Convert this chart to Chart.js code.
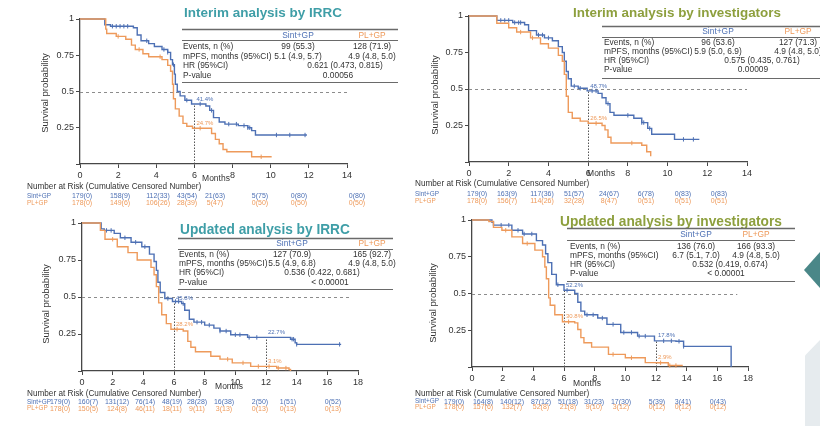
<!DOCTYPE html>
<html>
<head>
<meta charset="utf-8">
<script src="https://cdn.jsdelivr.net/npm/chart.js@4.4.1/dist/chart.umd.min.js"></script>
<style>
  html, body { margin: 0; padding: 0; background: #fff; }
  #page { position: relative; width: 820px; height: 426px; overflow: hidden; background: #fff; }
  canvas { position: absolute; }
  .arrow { position: absolute; left: 804px; top: 252px; width: 16px; height: 36px; background: #4a8788;
           clip-path: polygon(0 50%, 100% 0, 100% 100%); }
  .slab { position: absolute; left: 805px; top: 340px; width: 15px; height: 86px; background: #e6ebee;
          clip-path: polygon(0 18%, 100% 0, 100% 100%, 0 100%); }
</style>
</head>
<body>
<div id="page">
  <canvas id="c1" width="410" height="210" style="left:0;top:0"></canvas>
  <canvas id="c2" width="410" height="210" style="left:410px;top:0"></canvas>
  <canvas id="c3" width="410" height="216" style="left:0;top:210px"></canvas>
  <canvas id="c4" width="410" height="216" style="left:410px;top:210px"></canvas>
  <div class="arrow"></div>
  <div class="slab"></div>
</div>
<script>
// shared labels
const armNames = ['Sint+GP', 'PL+GP'];
const rowLabels = ['Events, n (%)', 'mPFS, months (95%CI)', 'HR (95%CI)', 'P-value'];
const riskTitle = 'Number at Risk (Cumulative Censored Number)';

// ---- Interim analysis by IRRC ----
const p1Title = 'Interim analysis by IRRC';
const p1SintT = [0, 1.3, 1.6, 2.8, 3.0, 3.2, 3.6, 3.9, 4.3, 4.6, 4.75, 4.85, 4.95, 5.0, 5.1, 5.25, 5.5, 5.85, 6.6, 6.8, 7.0, 7.3, 7.6, 8.3, 8.8, 9.0, 9.2, 11.9];
const p1SintS = [1, 0.96, 0.95, 0.94, 0.89, 0.85, 0.83, 0.81, 0.79, 0.77, 0.72, 0.685, 0.62, 0.55, 0.50, 0.47, 0.44, 0.414, 0.40, 0.37, 0.32, 0.29, 0.275, 0.265, 0.25, 0.23, 0.20, 0.20];
const p1PlT = [0, 1.35, 1.4, 1.9, 2.4, 2.7, 2.9, 3.3, 3.6, 4.3, 4.6, 4.75, 4.85, 4.9, 5.0, 5.2, 5.4, 5.6, 5.9, 6.9, 7.1, 7.3, 7.5, 7.7, 9.0, 10.05];
const p1PlS = [1, 0.93, 0.90, 0.88, 0.86, 0.82, 0.79, 0.76, 0.74, 0.72, 0.68, 0.64, 0.55, 0.45, 0.38, 0.33, 0.28, 0.26, 0.247, 0.21, 0.17, 0.14, 0.10, 0.085, 0.05, 0.05];
const p1SintCens = [1.7, 1.9, 2.1, 2.3, 2.5, 3.5, 4.4, 4.6, 4.9, 5.6, 6.3, 6.9, 7.8, 8.2, 8.6, 8.8, 8.9, 10.3, 11.0, 11.8];
const p1PlCens = [2.0, 3.1, 4.2, 6.3, 9.5];
const p1SintRisk = ['179(0)', '158(9)', '112(33)', '43(54)', '21(63)', '5(75)', '0(80)', '0(80)'];
const p1PlRisk = ['178(0)', '149(6)', '106(26)', '28(39)', '5(47)', '0(50)', '0(50)', '0(50)'];
const p1Events = ['99 (55.3)', '128 (71.9)'];
const p1Mpfs = ['5.1 (4.9, 5.7)', '4.9 (4.8, 5.0)'];
const p1Hr = '0.621 (0.473, 0.815)';
const p1P = '0.00056';
const p1MarkT = [6];
const p1MarkSint = [0.414];
const p1MarkPl = [0.247];

// ---- Interim analysis by investigators ----
const p2Title = 'Interim analysis by investigators';
const p2SintT = [0, 1.4, 2.2, 2.8, 3.0, 3.4, 3.8, 4.2, 4.5, 4.7, 4.8, 4.9, 5.0, 5.15, 5.5, 5.95, 6.5, 6.7, 6.9, 7.1, 7.3, 8.3, 8.7, 9.0, 9.2, 10.35, 11.6];
const p2SintS = [1, 0.97, 0.955, 0.94, 0.90, 0.87, 0.85, 0.83, 0.79, 0.75, 0.69, 0.62, 0.57, 0.52, 0.505, 0.487, 0.47, 0.44, 0.40, 0.34, 0.32, 0.30, 0.27, 0.23, 0.19, 0.155, 0.155];
const p2PlT = [0, 1.4, 2.0, 2.4, 3.1, 3.6, 4.0, 4.5, 4.7, 4.8, 4.9, 5.0, 5.2, 5.6, 6.0, 6.7, 6.85, 7.0, 7.15, 8.7, 8.95, 9.15];
const p2PlS = [1, 0.95, 0.92, 0.89, 0.85, 0.81, 0.78, 0.73, 0.69, 0.60, 0.45, 0.34, 0.30, 0.28, 0.265, 0.25, 0.22, 0.17, 0.13, 0.115, 0.07, 0.04];
const p2SintCens = [1.6, 1.8, 2.0, 2.3, 2.5, 2.6, 3.5, 3.7, 4.0, 5.3, 5.6, 6.2, 6.4, 7.0, 8.0, 8.7, 8.8, 9.1, 10.8, 11.3];
const p2PlCens = [2.6, 3.2, 6.4, 8.2];
const p2SintRisk = ['179(0)', '163(9)', '117(36)', '51(57)', '24(67)', '6(78)', '0(83)', '0(83)'];
const p2PlRisk = ['178(0)', '156(7)', '114(26)', '32(28)', '8(47)', '0(51)', '0(51)', '0(51)'];
const p2Events = ['96 (53.6)', '127 (71.3)'];
const p2Mpfs = ['5.9 (5.0, 6.9)', '4.9 (4.8, 5.0)'];
const p2Hr = '0.575 (0.435, 0.761)';
const p2P = '0.00009';
const p2MarkT = [6];
const p2MarkSint = [0.487];
const p2MarkPl = [0.265];

// ---- Updated analysis by IRRC ----
const p3Title = 'Updated analysis by IRRC';
const p3SintT = [0, 1.25, 1.45, 2.1, 2.5, 3.2, 3.9, 4.4, 4.7, 4.85, 4.95, 5.1, 5.4, 5.9, 6.5, 6.7, 7.0, 7.3, 8.0, 8.6, 9.0, 9.7, 10.8, 13.6, 13.9, 14.0, 16.9];
const p3SintS = [1, 0.96, 0.95, 0.93, 0.90, 0.87, 0.84, 0.79, 0.74, 0.68, 0.60, 0.53, 0.49, 0.47, 0.455, 0.41, 0.35, 0.33, 0.31, 0.29, 0.27, 0.245, 0.227, 0.215, 0.19, 0.18, 0.18];
const p3PlT = [0, 1.2, 1.5, 2.3, 3.0, 3.6, 4.5, 4.7, 4.85, 5.0, 5.2, 5.5, 5.8, 6.6, 6.9, 7.1, 7.4, 8.4, 9.0, 9.8, 11.0, 12.7, 13.5, 13.6];
const p3PlS = [1, 0.95, 0.89, 0.84, 0.80, 0.75, 0.70, 0.65, 0.57, 0.46, 0.38, 0.32, 0.282, 0.27, 0.20, 0.16, 0.13, 0.10, 0.08, 0.055, 0.031, 0.02, 0.01, 0];
const p3SintCens = [1.6, 1.9, 2.8, 3.5, 4.1, 5.6, 6.1, 6.3, 6.6, 7.5, 7.8, 8.3, 9.0, 9.4, 10.0, 10.3, 10.9, 11.4, 13.7, 13.8, 14.0, 16.8];
const p3PlCens = [2.0, 6.2, 9.5, 10.5, 11.5, 12.2, 12.8, 13.3];
const p3SintRisk = ['179(0)', '160(7)', '131(12)', '76(14)', '48(19)', '28(28)', '16(38)', '2(50)', '1(51)', '0(52)'];
const p3PlRisk = ['178(0)', '150(5)', '124(8)', '46(11)', '18(11)', '9(11)', '3(13)', '0(13)', '0(13)', '0(13)'];
const p3Events = ['127 (70.9)', '165 (92.7)'];
const p3Mpfs = ['5.5 (4.9, 6.8)', '4.9 (4.8, 5.0)'];
const p3Hr = '0.536 (0.422, 0.681)';
const p3P = '< 0.00001';
const p3MarkT = [6, 12];
const p3MarkSint = [0.458, 0.227];
const p3MarkPl = [0.282, 0.031];

// ---- Updated analysis by investigators ----
const p4Title = 'Updated analysis by investigators';
const p4SintT = [0, 1.3, 1.4, 2.6, 3.3, 4.2, 4.6, 4.8, 4.95, 5.2, 5.5, 6.0, 6.7, 6.9, 7.1, 7.35, 8.2, 8.8, 9.7, 10.8, 11.9, 13.3, 13.8, 16.9, 16.9];
const p4SintS = [1, 0.985, 0.965, 0.93, 0.905, 0.86, 0.83, 0.77, 0.71, 0.63, 0.56, 0.522, 0.50, 0.44, 0.38, 0.355, 0.333, 0.29, 0.235, 0.21, 0.178, 0.175, 0.14, 0.14, 0];
const p4PlT = [0, 1.1, 1.4, 1.95, 2.6, 3.3, 4.1, 4.6, 4.75, 4.85, 5.0, 5.1, 5.4, 5.9, 6.7, 6.9, 7.1, 7.3, 7.8, 8.9, 10.0, 11.3, 12.0, 12.8, 13.7];
const p4PlS = [1, 0.99, 0.95, 0.93, 0.885, 0.84, 0.795, 0.75, 0.68, 0.60, 0.47, 0.42, 0.355, 0.308, 0.30, 0.255, 0.20, 0.165, 0.135, 0.086, 0.063, 0.03, 0.029, 0.01, 0.005];
const p4SintCens = [1.9, 2.4, 3.0, 3.4, 3.9, 5.6, 6.2, 7.5, 7.9, 8.5, 9.2, 9.9, 10.4, 10.9, 11.3, 12.5, 13.0, 13.5, 13.8];
const p4PlCens = [2.2, 3.6, 6.3, 9.2, 10.4, 12.3, 12.9, 13.3];
const p4SintRisk = ['179(0)', '164(8)', '140(12)', '87(12)', '51(18)', '31(23)', '17(30)', '5(39)', '3(41)', '0(43)'];
const p4PlRisk = ['178(0)', '157(6)', '132(7)', '52(8)', '21(8)', '9(10)', '3(12)', '0(12)', '0(12)', '0(12)'];
const p4Events = ['136 (76.0)', '166 (93.3)'];
const p4Mpfs = ['6.7 (5.1, 7.0)', '4.9 (4.8, 5.0)'];
const p4Hr = '0.532 (0.419, 0.674)';
const p4P = '< 0.00001';
const p4MarkT = [6, 12];
const p4MarkSint = [0.522, 0.178];
const p4MarkPl = [0.308, 0.029];

// colours and fonts
const BLUE = '#4d70b4';
const ORANGE = '#ee9a5b';
const TEAL = '#3f9ea7';
const OLIVE = '#8d9f3d';
const TEXT = '#333';
const AXIS = '#474747';
const FONT = '"Liberation Sans", Arial, sans-serif';

Chart.defaults.font.family = FONT;
Chart.defaults.color = TEXT;

function kmPoints(ts, ss) {
    return ts.map((t, i) => ({ x: t, y: ss[i] }));
}

// KM value at time t (step function, value of last event at or before t)
function stepAt(ts, ss, t) {
    let v = ss[0];
    for (let i = 0; i < ts.length; i++) if (ts[i] <= t) v = ss[i];
    return v;
}

function censPoints(cens, ts, ss) {
    return cens.map(t => ({ x: t, y: stepAt(ts, ss, t) }));
}

function txt(ctx, s, x, y, size, color, align, bold) {
    ctx.font = (bold ? 'bold ' : '') + size + 'px ' + FONT;
    ctx.fillStyle = color;
    ctx.textAlign = align || 'left';
    ctx.textBaseline = 'middle';
    ctx.fillText(s, x, y);
}

function pct(v) {
    return (v * 100).toFixed(1) + '%';
}

// everything around the curves: reference lines, table, risk table, titles
function panelDecor(P) {
    const L = P.layout;
    return {
        id: 'panelDecor',
        beforeDatasetsDraw(chart) {
            const { ctx, scales: { x, y } } = chart;
            ctx.save();
            ctx.strokeStyle = '#8c8c8c';
            ctx.lineWidth = 1;
            ctx.setLineDash([3, 3]);
            ctx.beginPath();
            ctx.moveTo(x.getPixelForValue(0), Math.round(y.getPixelForValue(0.5)) + 0.5);
            ctx.lineTo(x.getPixelForValue(L.refEnd), Math.round(y.getPixelForValue(0.5)) + 0.5);
            ctx.stroke();
            ctx.strokeStyle = '#555';
            ctx.setLineDash([1.5, 1.5]);
            P.markT.forEach((t, i) => {
                const px = Math.round(x.getPixelForValue(t)) + 0.5;
                ctx.beginPath();
                ctx.moveTo(px, y.getPixelForValue(0));
                ctx.lineTo(px, y.getPixelForValue(P.markSint[i]));
                ctx.stroke();
            });
            ctx.restore();
        },
        afterDraw(chart) {
            const { ctx, scales: { x, y } } = chart;
            ctx.save();

            // title, scaled to the width it has in the reference
            ctx.font = 'bold 20px ' + FONT;
            const size = 20 * L.title.w / ctx.measureText(P.title).width;
            txt(ctx, P.title, L.title.x, L.title.y, size, P.titleColor, 'center', true);

            // summary table
            const T = L.table;
            ctx.strokeStyle = '#6a6a6a';
            T.lines.forEach((ly, i) => {
                ctx.lineWidth = i === 0 ? 1.4 : 1;
                ctx.beginPath();
                ctx.moveTo(T.x0, ly + 0.5);
                ctx.lineTo(T.x1, ly + 0.5);
                ctx.stroke();
            });
            const fs = 8.4;
            txt(ctx, armNames[0], T.c1, T.headY, fs, BLUE, 'center');
            txt(ctx, armNames[1], T.c2, T.headY, fs, ORANGE, 'center');
            rowLabels.forEach((r, i) => txt(ctx, r, T.labelX, T.rowY[i], fs, TEXT, 'left'));
            txt(ctx, P.events[0], T.c1, T.rowY[0], fs, TEXT, 'center');
            txt(ctx, P.events[1], T.c2, T.rowY[0], fs, TEXT, 'center');
            txt(ctx, P.mpfs[0], T.c1, T.rowY[1], fs, TEXT, 'center');
            txt(ctx, P.mpfs[1], T.c2, T.rowY[1], fs, TEXT, 'center');
            txt(ctx, P.hr, T.hrX, T.rowY[2], fs, TEXT, 'center');
            txt(ctx, P.p, T.pX, T.rowY[3], fs, TEXT, 'center');

            // y axis title
            ctx.save();
            ctx.translate(L.yTitle.x, L.yTitle.y);
            ctx.rotate(-Math.PI / 2);
            txt(ctx, 'Survival probability', 0, 0, 9.5, TEXT, 'center');
            ctx.restore();

            txt(ctx, 'Months', L.months.x, L.months.y, 8.5, TEXT, 'center');

            // landmark percentages
            P.markT.forEach((t, i) => {
                const px = x.getPixelForValue(t) + 2;
                txt(ctx, pct(P.markSint[i]), px, y.getPixelForValue(P.markSint[i]) - 5, 6, BLUE, 'left');
                txt(ctx, pct(P.markPl[i]), px, y.getPixelForValue(P.markPl[i]) - 5, 6, ORANGE, 'left');
            });

            // number at risk
            const R = L.risk;
            txt(ctx, riskTitle, R.titleX, R.titleY, 8.2, TEXT, 'left');
            txt(ctx, armNames[0], R.labelX, R.rowY[0], 6.4, BLUE, 'left');
            txt(ctx, armNames[1], R.labelX, R.rowY[1], 6.4, ORANGE, 'left');
            P.sintRisk.forEach((s, i) => txt(ctx, s, R.cols[i], R.rowY[0], 7, BLUE, 'center'));
            P.plRisk.forEach((s, i) => txt(ctx, s, R.cols[i], R.rowY[1], 7, ORANGE, 'center'));

            ctx.restore();
        }
    };
}

function makePanel(id, P) {
    const L = P.layout;
    const yW = 30, xH = 22;
    const lineDs = (ts, ss, color) => ({
        data: kmPoints(ts, ss), borderColor: color, borderWidth: 1.4,
        stepped: 'before', pointRadius: 0, fill: false, clip: 4
    });
    const censDs = (cens, ts, ss, color) => ({
        data: censPoints(cens, ts, ss), showLine: false, pointStyle: 'line', rotation: 90,
        pointRadius: 2.2, borderColor: color, borderWidth: 1, clip: 4
    });
    new Chart(document.getElementById(id), {
        type: 'line',
        data: {
            datasets: [
                lineDs(P.plT, P.plS, ORANGE),
                censDs(P.plCens, P.plT, P.plS, ORANGE),
                lineDs(P.sintT, P.sintS, BLUE),
                censDs(P.sintCens, P.sintT, P.sintS, BLUE)
            ]
        },
        options: {
            responsive: false,
            animation: false,
            events: [],
            layout: {
                padding: { left: L.area.l - yW, right: L.w - L.area.r, top: L.area.t, bottom: L.h - L.area.b - xH }
            },
            plugins: { legend: { display: false }, tooltip: { enabled: false } },
            scales: {
                x: {
                    type: 'linear', min: 0, max: P.xMax,
                    ticks: { stepSize: 2, font: { size: 9 }, color: TEXT, padding: 2 },
                    grid: { drawOnChartArea: false, tickLength: 4, color: AXIS },
                    border: { color: AXIS, width: 1.3 },
                    afterFit: s => { s.height = xH; }
                },
                y: {
                    min: 0, max: 1,
                    ticks: { stepSize: 0.25, font: { size: 9 }, color: TEXT, padding: 2,
                             callback: v => v === 0 ? '' : v },
                    grid: { drawOnChartArea: false, tickLength: 4, color: AXIS },
                    border: { color: AXIS, width: 1.3 },
                    afterFit: s => { s.width = yW; }
                }
            }
        },
        plugins: [panelDecor(P)]
    });
}

makePanel('c1', {
    title: p1Title, titleColor: TEAL, xMax: 14,
    sintT: p1SintT, sintS: p1SintS, plT: p1PlT, plS: p1PlS, sintCens: p1SintCens, plCens: p1PlCens,
    sintRisk: p1SintRisk, plRisk: p1PlRisk, events: p1Events, mpfs: p1Mpfs, hr: p1Hr, p: p1P,
    markT: p1MarkT, markSint: p1MarkSint, markPl: p1MarkPl,
    layout: {
        w: 410, h: 210, area: { l: 80, r: 347, t: 19, b: 164 }, refEnd: 14,
        title: { x: 263, y: 13, w: 158 },
        table: { x0: 182, x1: 398, lines: [29, 40, 82], headY: 36, rowY: [47, 56.5, 66, 75.5],
                 labelX: 183, c1: 298, c2: 372, hrX: 345, pX: 338 },
        yTitle: { x: 45, y: 93 }, months: { x: 216, y: 179 },
        risk: { titleX: 27, titleY: 186.5, labelX: 27, rowY: [196.5, 203],
                cols: [82, 120, 158, 187, 215, 260, 299, 357] }
    }
});

makePanel('c2', {
    title: p2Title, titleColor: OLIVE, xMax: 14,
    sintT: p2SintT, sintS: p2SintS, plT: p2PlT, plS: p2PlS, sintCens: p2SintCens, plCens: p2PlCens,
    sintRisk: p2SintRisk, plRisk: p2PlRisk, events: p2Events, mpfs: p2Mpfs, hr: p2Hr, p: p2P,
    markT: p2MarkT, markSint: p2MarkSint, markPl: p2MarkPl,
    layout: {
        w: 410, h: 210, area: { l: 59, r: 337, t: 16, b: 162 }, refEnd: 14,
        title: { x: 267, y: 13, w: 208 },
        table: { x0: 192, x1: 410, lines: [26, 37, 78], headY: 32, rowY: [42.5, 51.5, 61, 70],
                 labelX: 194, c1: 308, c2: 388, hrX: 352, pX: 343 },
        yTitle: { x: 25, y: 95 }, months: { x: 191, y: 174 },
        risk: { titleX: 5, titleY: 184, labelX: 5, rowY: [194.5, 201],
                cols: [67, 97, 132, 164, 199, 236, 273, 309] }
    }
});

makePanel('c3', {
    title: p3Title, titleColor: TEAL, xMax: 18,
    sintT: p3SintT, sintS: p3SintS, plT: p3PlT, plS: p3PlS, sintCens: p3SintCens, plCens: p3PlCens,
    sintRisk: p3SintRisk, plRisk: p3PlRisk, events: p3Events, mpfs: p3Mpfs, hr: p3Hr, p: p3P,
    markT: p3MarkT, markSint: p3MarkSint, markPl: p3MarkPl,
    layout: {
        w: 410, h: 216, area: { l: 82, r: 358, t: 13, b: 161 }, refEnd: 17.5,
        title: { x: 265, y: 20, w: 170 },
        table: { x0: 178, x1: 393, lines: [28, 39, 79], headY: 34, rowY: [44.5, 53.5, 63, 72.5],
                 labelX: 179, c1: 292, c2: 372, hrX: 322, pX: 330 },
        yTitle: { x: 46, y: 94 }, months: { x: 229, y: 177 },
        risk: { titleX: 27, titleY: 184, labelX: 27, rowY: [192.3, 198.7],
                cols: [60, 88, 117, 145, 172, 197, 224, 260, 288, 333] }
    }
});

makePanel('c4', {
    title: p4Title, titleColor: OLIVE, xMax: 18,
    sintT: p4SintT, sintS: p4SintS, plT: p4PlT, plS: p4PlS, sintCens: p4SintCens, plCens: p4PlCens,
    sintRisk: p4SintRisk, plRisk: p4PlRisk, events: p4Events, mpfs: p4Mpfs, hr: p4Hr, p: p4P,
    markT: p4MarkT, markSint: p4MarkSint, markPl: p4MarkPl,
    layout: {
        w: 410, h: 216, area: { l: 62, r: 338, t: 10, b: 157 }, refEnd: 17.3,
        title: { x: 261, y: 12, w: 222 },
        table: { x0: 157, x1: 385, lines: [18, 30, 71], headY: 25, rowY: [37, 46, 55, 64],
                 labelX: 160, c1: 286, c2: 346, hrX: 320, pX: 316 },
        yTitle: { x: 23, y: 93 }, months: { x: 177, y: 174 },
        risk: { titleX: 5, titleY: 183.3, labelX: 5, rowY: [191.7, 197.5],
                cols: [44, 73, 102, 131, 158, 184, 211, 247, 273, 308] }
    }
});
</script>
</body>
</html>
